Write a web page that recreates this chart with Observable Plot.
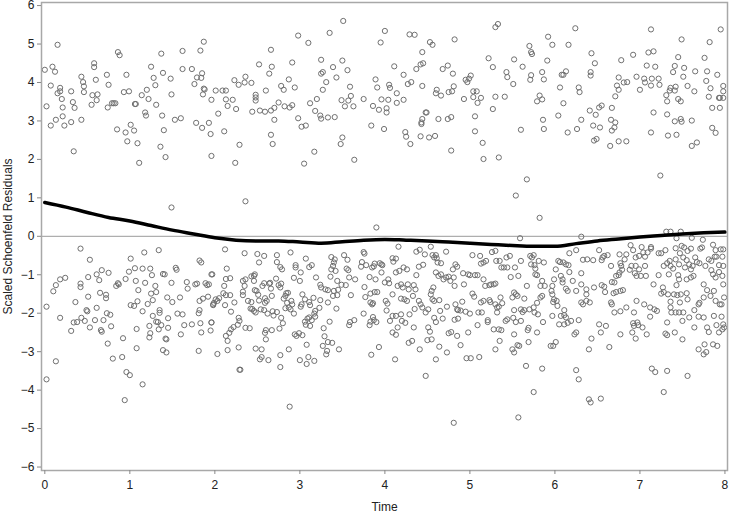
<!DOCTYPE html>
<html>
<head>
<meta charset="utf-8">
<script src="https://cdn.jsdelivr.net/npm/d3@7"></script>
<script src="https://cdn.jsdelivr.net/npm/@observablehq/plot@0.6"></script>
<style>
  html, body { margin: 0; padding: 0; background: #fff; }
  #chart svg { display: block; font-family: "Liberation Sans", Arial, sans-serif; }
</style>
</head>
<body>
<div id="chart"></div>
<script>
// Upper band residuals: [time, residual]
const upperPoints = [
[0.00,4.33],[0.02,3.38],[0.07,2.88],[0.07,3.92],[0.09,4.41],[0.12,4.28],[0.15,4.98],[0.13,3.03],[0.15,3.72],[0.18,3.86],
[0.18,3.77],[0.20,3.57],[0.21,3.35],[0.21,3.12],[0.23,2.88],[0.31,2.97],[0.31,3.77],[0.33,3.49],[0.34,2.21],[0.35,3.34],
[0.43,4.15],[0.43,3.03],[0.45,4.01],[0.46,3.75],[0.46,3.90],[0.55,3.42],[0.56,3.67],[0.58,4.50],[0.58,4.40],[0.60,4.07],
[0.61,3.54],[0.62,3.69],[0.73,4.20],[0.74,3.35],[0.75,3.94],[0.79,3.46],[0.81,3.46],[0.83,3.46],[0.85,2.78],[0.86,4.79],
[0.88,4.71],[0.93,3.75],[0.95,2.70],[0.96,4.20],[0.97,2.47],[0.99,3.77],[1.01,2.90],[1.05,2.75],[1.06,3.44],[1.07,3.44],
[1.09,2.42],[1.11,1.91],[1.14,3.67],[1.18,3.22],[1.19,3.14],[1.20,3.81],[1.22,3.57],[1.25,4.41],[1.28,4.12],[1.30,3.93],
[1.31,3.42],[1.36,2.33],[1.37,4.75],[1.38,3.14],[1.39,4.25],[1.40,2.76],[1.42,2.06],[1.48,4.10],[1.49,3.69],[1.49,0.75],
[1.53,3.03],[1.60,3.07],[1.62,4.35],[1.62,4.82],[1.73,4.35],[1.76,3.96],[1.78,2.95],[1.79,4.13],[1.83,4.83],[1.84,4.12],
[1.85,2.82],[1.85,4.24],[1.86,3.69],[1.87,3.84],[1.87,5.06],[1.88,3.82],[1.93,2.95],[1.95,2.66],[1.96,3.55],[1.96,2.09],
[2.01,3.79],[2.04,3.19],[2.09,3.79],[2.11,2.73],[2.13,3.79],[2.13,3.56],[2.15,3.39],[2.21,3.55],[2.23,4.06],[2.24,1.91],
[2.25,3.31],[2.28,3.94],[2.29,2.38],[2.35,4.00],[2.36,4.15],[2.36,0.91],[2.43,3.99],[2.44,3.24],[2.48,3.68],[2.48,3.53],
[2.48,3.61],[2.52,4.47],[2.53,3.27],[2.59,3.24],[2.60,3.79],[2.64,4.23],[2.66,4.85],[2.66,3.27],[2.66,2.64],[2.67,4.41],
[2.68,2.40],[2.70,3.03],[2.70,3.34],[2.75,3.48],[2.78,3.91],[2.81,3.81],[2.82,3.38],[2.87,4.08],[2.88,3.35],[2.91,3.41],
[2.91,4.52],[2.94,3.87],[2.98,3.07],[2.98,5.22],[3.02,2.85],[3.05,1.89],[3.07,2.88],[3.10,5.03],[3.12,3.46],[3.17,2.20],
[3.18,3.26],[3.20,3.57],[3.24,3.14],[3.25,3.06],[3.25,4.59],[3.25,4.23],[3.27,4.27],[3.27,3.81],[3.31,4.01],[3.33,3.09],
[3.35,5.29],[3.39,4.40],[3.41,3.10],[3.43,4.13],[3.48,2.40],[3.49,3.54],[3.50,2.57],[3.50,4.57],[3.51,5.60],[3.53,3.38],
[3.56,4.32],[3.57,3.53],[3.59,3.89],[3.60,3.65],[3.63,3.38],[3.64,1.99],[3.75,3.57],[3.84,2.88],[3.86,3.39],[3.89,4.08],
[3.90,0.23],[3.91,3.87],[3.93,3.29],[3.95,5.04],[3.96,3.56],[3.99,2.79],[4.00,5.34],[4.02,3.22],[4.02,3.33],[4.04,3.55],
[4.05,3.94],[4.06,3.86],[4.11,4.42],[4.14,3.47],[4.14,3.72],[4.22,3.55],[4.22,4.20],[4.24,2.71],[4.25,2.59],[4.27,3.96],
[4.29,5.25],[4.30,2.40],[4.31,4.01],[4.35,5.24],[4.37,4.35],[4.42,2.60],[4.42,4.47],[4.43,2.96],[4.43,2.92],[4.44,4.79],
[4.44,3.05],[4.44,3.91],[4.45,4.50],[4.48,3.22],[4.49,3.22],[4.52,2.57],[4.53,5.05],[4.56,4.98],[4.59,2.61],[4.60,3.72],
[4.61,3.81],[4.63,3.05],[4.66,3.66],[4.68,4.35],[4.74,4.44],[4.74,3.05],[4.75,3.75],[4.78,3.10],[4.79,3.77],[4.80,4.23],
[4.81,3.90],[4.82,5.12],[4.78,2.23],[4.93,3.57],[4.95,4.07],[4.97,4.01],[4.99,4.10],[5.01,4.18],[5.04,3.62],[5.04,3.77],
[5.06,2.73],[5.06,3.12],[5.08,3.77],[5.09,3.47],[5.13,3.60],[5.15,2.43],[5.16,2.01],[5.22,4.63],[5.27,3.31],[5.27,4.40],
[5.30,3.63],[5.30,5.44],[5.33,5.52],[5.34,2.05],[5.41,3.63],[5.43,4.27],[5.44,4.14],[5.51,3.96],[5.52,4.60],[5.54,1.06],
[5.60,2.77],[5.62,4.41],[5.67,1.48],[5.70,4.95],[5.71,4.07],[5.72,4.79],[5.72,4.19],[5.73,4.74],[5.79,3.51],[5.82,3.66],
[5.82,0.48],[5.85,3.56],[5.85,4.27],[5.86,3.03],[5.87,4.08],[5.87,2.79],[5.91,4.57],[5.92,5.19],[5.97,4.98],[6.04,3.14],
[6.06,3.87],[6.08,4.20],[6.10,4.20],[6.10,3.46],[6.13,4.29],[6.15,2.70],[6.16,4.98],[6.24,5.41],[6.26,2.79],[6.28,3.87],
[6.29,3.75],[6.31,3.03],[6.41,3.27],[6.42,4.18],[6.42,4.27],[6.43,4.76],[6.47,4.50],[6.45,2.88],[6.46,2.49],[6.48,3.16],
[6.49,2.53],[6.52,3.35],[6.53,2.83],[6.55,3.40],[6.65,2.35],[6.66,3.03],[6.67,3.34],[6.67,2.75],[6.70,2.83],[6.71,3.64],
[6.71,2.96],[6.73,3.92],[6.75,4.13],[6.75,3.81],[6.75,2.47],[6.78,4.58],[6.81,4.00],[6.84,2.47],[6.85,4.01],[6.92,4.72],
[6.96,4.15],[7.00,3.81],[7.05,4.10],[7.06,4.00],[7.08,4.44],[7.10,4.78],[7.13,3.92],[7.13,2.70],[7.13,5.38],[7.14,4.10],
[7.16,4.81],[7.16,3.22],[7.18,4.41],[7.22,4.10],[7.23,3.94],[7.24,1.58],[7.31,3.67],[7.32,3.17],[7.32,3.51],[7.33,2.62],
[7.35,3.79],[7.36,3.86],[7.39,4.27],[7.41,2.99],[7.41,3.79],[7.41,4.43],[7.42,3.89],[7.43,2.64],[7.45,3.57],[7.45,4.66],
[7.48,3.05],[7.48,3.51],[7.49,2.98],[7.49,5.12],[7.51,4.15],[7.52,4.38],[7.56,3.91],[7.61,2.35],[7.61,3.01],[7.64,3.77],
[7.65,4.29],[7.67,2.44],[7.76,4.64],[7.78,4.04],[7.79,4.29],[7.81,3.63],[7.82,5.05],[7.83,3.85],[7.85,3.34],[7.85,2.82],
[7.89,2.69],[7.91,4.20],[7.93,3.60],[7.94,3.60],[7.94,3.34],[7.95,5.38],[7.98,3.91],[7.98,3.77],[7.98,3.60]
];

// Lower band residuals: [time, residual]
const lowerPoints = [
[0.42,-0.32],[0.53,-0.61],[1.01,-0.58],[1.17,-0.42],[1.34,-0.36],[0.02,-1.83],[0.10,-1.43],[0.13,-1.27],[0.18,-1.12],[0.24,-1.08],
[0.18,-2.12],[0.13,-3.25],[0.02,-3.72],[0.31,-2.46],[0.34,-2.24],[0.38,-2.23],[0.36,-1.71],[0.42,-1.23],[0.42,-1.32],[0.43,-2.12],
[0.47,-2.20],[0.49,-1.92],[0.50,-1.95],[0.51,-1.57],[0.51,-1.06],[0.53,-2.37],[0.59,-2.18],[0.61,-0.99],[0.61,-1.86],[0.64,-1.14],
[0.65,-1.47],[0.66,-2.44],[0.67,-2.48],[0.67,-0.88],[0.69,-2.18],[0.72,-1.52],[0.72,-1.61],[0.73,-2.00],[0.75,-0.95],[0.77,-2.04],
[0.78,-2.34],[0.74,-2.79],[0.80,-3.18],[0.91,-3.14],[0.92,-2.65],[0.84,-1.29],[0.86,-1.22],[0.87,-1.25],[0.95,-1.11],[0.99,-0.92],
[1.01,-1.79],[1.05,-1.81],[1.06,-0.83],[1.07,-1.16],[1.08,-2.41],[1.08,-2.91],[1.09,-1.69],[1.10,-1.40],[1.15,-0.84],[1.15,-1.95],
[1.18,-1.21],[1.21,-1.76],[1.23,-2.33],[1.23,-2.63],[1.24,-0.84],[1.24,-2.52],[1.25,-1.49],[1.26,-1.01],[1.27,-1.66],[1.27,-2.07],
[1.30,-1.29],[1.31,-1.45],[1.31,-2.22],[1.33,-2.23],[1.34,-2.42],[1.35,-1.92],[1.35,-1.99],[1.37,-2.31],[1.39,-0.98],[1.41,-0.99],
[1.42,-2.66],[1.43,-2.68],[1.39,-2.96],[1.43,-3.02],[1.44,-1.59],[1.45,-2.13],[1.45,-2.38],[1.49,-1.21],[1.50,-1.71],[1.54,-0.82],
[1.55,-0.87],[1.56,-2.01],[1.59,-1.59],[1.60,-2.55],[1.62,-2.03],[1.64,-2.31],[1.67,-1.19],[1.68,-1.36],[1.73,-2.29],[1.77,-1.25],
[1.79,-1.23],[1.81,-2.00],[1.82,-0.63],[1.84,-0.68],[1.82,-1.68],[1.82,-1.92],[1.83,-2.26],[1.84,-2.50],[1.81,-2.98],[1.86,-1.62],
[1.89,-1.22],[1.91,-1.27],[1.92,-1.57],[1.93,-1.25],[1.96,-0.99],[1.96,-2.24],[1.95,-2.45],[1.98,-1.79],[1.99,-1.73],[0.96,-3.53],
[1.00,-3.61],[1.15,-3.85],[0.94,-4.26],[2.29,-3.47],
[2.12,-0.34],[2.35,-0.44],[2.50,-0.46],[2.58,-0.51],[2.52,-0.68],[2.73,-0.49],[2.73,-0.67],[2.89,-0.42],[2.77,-0.80],[2.79,-0.86],
[2.95,-0.75],[2.95,-0.81],[3.07,-0.58],[3.11,-0.80],[3.14,-0.75],[3.01,-0.94],[2.93,-1.08],[3.00,-1.16],[3.19,-1.07],[2.14,-0.84],
[2.13,-1.11],[2.18,-1.09],[1.97,-0.99],[2.33,-1.16],[2.36,-1.12],[2.43,-1.04],[2.46,-1.03],[2.47,-0.99],[2.46,-1.16],[2.35,-1.29],
[2.11,-1.29],[2.10,-1.48],[2.13,-1.53],[2.18,-1.53],[2.23,-1.72],[2.12,-1.79],[2.01,-1.64],[2.03,-1.68],[2.05,-1.61],[1.98,-1.77],
[2.19,-1.96],[2.33,-1.44],[2.33,-1.53],[2.39,-1.68],[2.43,-1.71],[2.44,-1.89],[2.46,-1.94],[2.47,-1.40],[2.49,-1.42],[2.51,-1.52],
[2.52,-1.67],[2.56,-1.29],[2.58,-1.22],[2.59,-1.61],[2.59,-1.73],[2.61,-1.68],[2.64,-1.23],[2.65,-1.21],[2.66,-1.36],[2.67,-1.55],
[2.54,-1.90],[2.58,-1.92],[2.48,-1.98],[2.42,-1.88],[2.62,-2.01],[2.69,-2.06],[2.73,-1.97],[2.72,-1.10],[2.75,-1.27],[2.77,-1.33],
[2.78,-1.23],[2.81,-1.62],[2.83,-1.55],[2.84,-1.48],[2.86,-1.47],[2.85,-1.73],[2.87,-1.85],[2.89,-1.90],[2.90,-1.68],[2.91,-1.77],
[2.93,-2.01],[2.83,-1.87],[2.78,-2.12],[2.80,-2.26],[2.76,-2.40],[2.68,-1.95],[2.67,-2.44],[2.60,-2.44],[2.59,-2.51],[2.60,-2.68],
[2.55,-2.94],[2.48,-2.92],[2.36,-2.38],[2.41,-2.39],[2.28,-2.12],[2.29,-2.20],[2.27,-2.30],[2.22,-2.36],[2.19,-2.42],[2.17,-2.51],
[2.13,-2.59],[2.15,-2.72],[2.28,-2.89],[2.15,-2.96],[2.03,-3.06],[1.96,-2.24],[2.53,-3.20],[2.55,-3.14],[2.63,-3.22],[2.30,-3.47],
[2.77,-3.09],[2.77,-3.40],[2.87,-2.94],[2.94,-2.55],[2.96,-2.59],[2.99,-2.52],[3.03,-2.57],[3.08,-2.82],[3.00,-3.22],[3.08,-3.32],
[3.10,-3.14],[3.03,-1.51],[3.02,-1.77],[3.01,-1.83],[3.06,-1.64],[3.16,-1.60],[3.18,-1.94],[3.23,-1.86],[3.24,-1.66],[3.11,-1.71],
[3.12,-1.79],[3.09,-2.14],[3.11,-2.11],[3.14,-2.18],[3.17,-2.01],[3.18,-2.09],[3.06,-2.22],[3.12,-2.33],[3.07,-2.30],[3.28,-2.39],
[3.24,-1.26],[3.25,-1.33],[3.30,-1.38],[3.33,-1.40],[3.36,-1.05],[3.37,-0.54],[3.39,-0.77],[3.40,-0.68],[3.41,-0.60],[3.42,-0.90],
[3.37,-0.86],[3.44,-1.16],[3.45,-1.39],[3.49,-1.26],[3.52,-0.49],[3.56,-0.61],[3.54,-1.27],[3.55,-0.84],[3.57,-0.88],[3.58,-1.07],
[3.60,-1.53],[3.65,-1.12],[3.72,-0.79],[3.73,-0.67],[3.75,-0.41],[3.76,-0.45],[3.78,-0.75],[3.76,-1.32],[3.77,-1.58],[3.75,-2.01],
[3.82,-1.06],[3.85,-0.81],[3.87,-0.78],[3.88,-0.71],[3.89,-1.12],[3.83,-1.49],[3.88,-1.45],[3.91,-1.45],[3.94,-0.70],[3.97,-0.75],
[3.83,-1.72],[3.85,-1.77],[3.86,-1.74],[3.86,-2.10],[3.87,-2.18],[3.90,-2.23],[3.83,-2.22],[3.82,-2.31],[3.64,-2.18],[3.59,-2.23],
[3.58,-2.31],[3.35,-2.22],[3.29,-2.60],[3.33,-2.75],[3.38,-2.77],[3.27,-2.85],[3.32,-2.98],[3.31,-3.07],[3.46,-2.94],[3.43,-1.88],
[3.33,-1.72],[3.39,-1.55],[3.40,-1.42],[3.44,-1.53],[3.93,-2.88],[3.84,-3.08],[3.17,-3.24],[2.88,-4.43],[4.81,-4.85],
[4.16,-0.27],[5.59,-0.05],[4.37,-0.40],[4.41,-0.35],[4.47,-0.47],[4.54,-0.27],[4.56,-0.49],[4.58,-0.55],[4.60,-0.49],[4.61,-0.57],
[4.62,-0.68],[4.66,-0.70],[4.72,-0.40],[4.45,-0.74],[4.40,-0.79],[4.09,-0.57],[4.13,-0.58],[4.10,-0.66],[3.96,-0.73],[3.96,-0.94],
[4.22,-0.81],[4.26,-0.86],[4.13,-0.94],[4.17,-0.90],[4.04,-1.12],[4.00,-1.20],[4.05,-1.22],[4.15,-1.29],[4.19,-1.25],[4.21,-1.33],
[4.27,-1.25],[4.28,-1.38],[4.34,-1.27],[4.36,-1.38],[4.37,-1.01],[4.09,-1.51],[4.19,-1.62],[4.23,-1.64],[4.26,-1.68],[4.33,-1.55],
[4.40,-1.68],[4.42,-1.77],[4.44,-1.85],[4.35,-1.89],[4.01,-1.68],[4.03,-1.75],[4.02,-1.93],[4.09,-2.07],[4.06,-2.20],[4.13,-2.07],
[4.19,-2.03],[4.20,-2.20],[4.15,-2.37],[4.24,-2.25],[4.29,-2.03],[4.34,-2.37],[4.09,-2.50],[4.13,-2.56],[4.28,-2.77],[4.32,-2.72],
[4.41,-2.94],[4.12,-3.20],[4.48,-3.63],[4.50,-2.70],[4.55,-2.68],[4.51,-2.37],[4.53,-2.48],[4.58,-2.12],[4.60,-2.23],[4.48,-1.98],
[4.51,-1.90],[4.54,-1.51],[4.55,-1.42],[4.57,-1.33],[4.56,-1.64],[4.58,-1.68],[4.64,-1.66],[4.60,-0.94],[4.63,-1.03],[4.66,-0.99],
[4.69,-1.12],[4.72,-1.07],[4.75,-1.05],[4.77,-1.16],[4.81,-1.07],[4.82,-1.29],[4.80,-0.86],[4.83,-0.73],[4.85,-0.79],[4.65,-1.94],
[4.68,-2.14],[4.73,-1.83],[4.75,-2.52],[4.78,-2.49],[4.83,-1.77],[4.85,-1.90],[4.86,-1.92],[4.89,-1.93],[4.91,-1.70],[4.95,-1.96],
[5.00,-2.01],[4.85,-2.59],[4.86,-2.14],[4.82,-2.17],[4.89,-2.83],[4.73,-3.02],[4.64,-2.87],[4.60,-3.20],[4.96,-3.17],[5.01,-3.17],
[5.11,-3.14],[4.98,-2.50],[5.09,-2.31],[5.10,-1.98],[5.14,-1.98],[5.21,-2.23],[5.32,-1.98],[5.03,-1.49],[5.05,-1.57],[5.13,-1.72],
[5.16,-1.68],[5.23,-1.66],[5.24,-1.71],[5.30,-1.77],[5.32,-1.85],[5.34,-1.83],[5.36,-1.59],[5.38,-1.74],[4.98,-0.99],[5.00,-1.01],
[4.93,-1.25],[5.06,-1.01],[5.09,-1.01],[4.92,-0.96],[5.03,-0.49],[5.12,-0.51],[5.13,-0.71],[5.16,-0.68],[5.19,-0.64],[5.18,-1.29],
[5.23,-1.27],[5.25,-1.25],[5.28,-1.25],[5.30,-1.23],[5.16,-1.12],[5.26,-0.41],[5.30,-0.38],[5.31,-0.64],[5.35,-0.64],[5.37,-0.81],
[5.40,-0.81],[5.44,-0.81],[5.43,-0.55],[5.47,-0.51],[5.48,-1.06],[5.50,-1.59],[5.52,-1.46],[5.54,-1.51],[5.56,-1.55],[5.53,-0.81],
[5.57,-1.03],[5.60,-0.64],[5.64,-1.62],[5.67,-1.29],[5.71,-0.51],[5.72,-0.73],[5.73,-0.55],[5.75,-0.49],[5.76,-0.75],[5.77,-0.84],
[5.79,-1.01],[5.81,-0.64],[5.85,-1.16],[5.87,-0.68],[5.88,-1.29],[5.77,-0.99],[5.83,-1.29],[5.79,-1.73],[5.85,-1.55],[5.83,-1.59],
[5.96,-1.42],[5.97,-1.51],[5.99,-1.64],[5.60,-1.90],[5.62,-1.97],[5.64,-1.92],[5.70,-1.90],[5.75,-1.85],[5.76,-1.98],[5.52,-1.92],
[5.51,-2.12],[5.54,-2.23],[5.60,-2.20],[5.69,-2.38],[5.68,-2.44],[5.79,-2.50],[5.86,-2.23],[5.80,-2.03],[5.44,-2.16],[5.42,-2.20],
[5.52,-2.55],[5.50,-2.94],[5.52,-3.02],[5.56,-2.83],[5.58,-2.85],[5.69,-2.75],[5.30,-2.94],[5.34,-2.42],[5.28,-2.42],[5.37,-2.44],
[5.35,-2.72],[5.21,-2.18],[5.66,-3.37],[5.85,-3.44],[5.75,-4.05],[5.95,-2.85],[5.97,-2.07],[5.98,-1.71],[5.57,-4.71],[6.42,-4.32],
[6.31,-0.01],[7.31,0.12],[7.36,0.12],[7.48,0.12],[7.61,-0.04],[7.74,-0.09],[7.43,-0.05],
[6.89,-0.23],[6.92,-0.36],[7.02,-0.28],[7.04,-0.42],[7.13,-0.28],[7.13,-0.32],[7.22,-0.44],[7.25,-0.44],[7.30,-0.36],[7.42,-0.31],
[7.47,-0.44],[7.49,-0.25],[7.52,-0.29],[7.56,-0.38],[7.60,-0.32],[7.71,-0.32],[7.73,-0.29],[7.86,-0.22],[7.89,-0.36],[7.95,-0.34],
[7.98,-0.34],[6.17,-0.44],[6.25,-0.36],[6.52,-0.36],[6.58,-0.51],[6.62,-0.49],[6.56,-0.55],[6.76,-0.47],[6.84,-0.47],[6.95,-0.55],
[6.99,-0.51],[7.06,-0.53],[7.09,-0.42],[6.04,-0.64],[6.06,-0.67],[6.10,-0.68],[6.13,-0.73],[6.16,-0.75],[6.01,-0.86],[6.17,-0.93],
[6.33,-0.61],[6.38,-0.60],[6.45,-0.62],[6.55,-0.62],[6.66,-0.77],[6.77,-0.70],[6.78,-0.77],[6.79,-0.87],[6.76,-0.94],[6.75,-1.01],
[6.72,-1.03],[6.82,-0.60],[6.90,-0.77],[6.95,-0.77],[6.99,-0.86],[6.88,-0.87],[6.94,-0.96],[6.96,-1.03],[7.01,-1.03],[7.07,-1.03],
[7.06,-0.77],[7.22,-1.01],[7.28,-0.77],[7.32,-0.70],[7.35,-0.64],[7.36,-0.77],[7.39,-0.84],[7.42,-0.60],[7.46,-0.73],[7.51,-0.55],
[7.53,-0.81],[7.55,-0.62],[7.58,-0.73],[7.60,-0.86],[7.62,-0.77],[7.65,-0.55],[7.67,-0.67],[7.70,-0.70],[7.77,-0.77],[7.81,-0.60],
[7.84,-0.64],[7.88,-0.53],[7.90,-0.53],[7.93,-0.75],[7.97,-0.53],[7.98,-0.77],[7.34,-0.99],[7.45,-1.01],[7.46,-1.12],[7.55,-1.12],
[7.60,-1.07],[7.63,-1.03],[7.75,-1.25],[7.84,-0.88],[7.86,-0.99],[7.89,-1.07],[7.93,-0.93],[7.97,-1.03],[7.98,-1.25],[5.99,-1.12],
[5.97,-1.29],[6.07,-1.03],[6.09,-1.12],[6.09,-1.20],[6.13,-1.36],[6.15,-1.42],[6.21,-1.16],[6.25,-1.42],[6.31,-0.96],[6.31,-1.25],
[6.37,-1.38],[6.37,-1.51],[6.41,-1.72],[6.37,-1.68],[6.31,-1.72],[6.33,-1.77],[6.46,-1.33],[6.55,-1.27],[6.58,-1.31],[6.67,-1.19],
[6.70,-1.20],[6.59,-1.45],[6.69,-1.48],[6.72,-1.45],[6.77,-1.42],[6.80,-1.40],[6.66,-1.72],[6.67,-1.77],[6.70,-1.98],[6.77,-1.95],
[6.84,-1.85],[6.93,-1.98],[6.96,-1.68],[7.05,-1.77],[7.12,-1.85],[7.17,-1.90],[7.20,-1.94],[7.16,-1.25],[7.25,-1.49],[7.28,-1.45],
[7.33,-1.51],[7.27,-1.33],[7.36,-1.70],[7.40,-1.51],[7.44,-1.53],[7.48,-1.51],[7.43,-1.27],[7.55,-1.48],[7.56,-1.64],[7.47,-1.72],
[7.36,-1.85],[7.37,-1.98],[7.42,-1.98],[7.46,-1.98],[7.51,-1.98],[7.64,-1.92],[7.69,-1.77],[7.70,-1.73],[7.75,-1.59],[7.79,-1.40],
[7.83,-1.55],[7.87,-1.42],[7.89,-1.68],[7.94,-1.77],[7.96,-1.77],[7.99,-1.59],[7.87,-2.07],[7.96,-2.09],[7.90,-2.31],[7.98,-2.29],
[7.97,-2.42],[7.93,-2.50],[7.99,-2.37],[7.79,-2.37],[7.81,-2.49],[7.75,-2.11],[7.64,-2.37],[7.69,-2.09],[7.50,-2.20],[7.50,-2.68],
[7.58,-2.11],[7.32,-2.24],[7.30,-2.53],[7.32,-2.57],[7.41,-2.50],[7.12,-2.09],[7.08,-2.55],[7.03,-2.37],[6.97,-2.24],[6.93,-2.33],
[6.91,-2.50],[6.95,-2.66],[6.98,-2.31],[6.92,-2.26],[6.77,-2.55],[6.64,-2.88],[6.60,-2.33],[6.54,-2.50],[6.52,-2.29],[6.43,-2.66],
[6.40,-2.94],[6.28,-2.18],[6.25,-2.50],[6.23,-2.55],[6.19,-2.20],[6.15,-2.25],[6.13,-2.11],[6.11,-2.05],[6.07,-2.07],[6.11,-2.29],
[6.05,-2.29],[6.01,-2.75],[5.98,-2.85],[6.11,-1.92],[6.03,-1.81],[6.02,-1.68],[6.25,-3.48],[6.28,-3.72],[6.40,-4.24],[6.54,-4.22],
[7.14,-3.44],[7.18,-3.53],[7.32,-3.50],[7.56,-3.63],[7.28,-4.05],[7.69,-2.94],[7.75,-3.07],[7.78,-3.01],[7.76,-2.81],[7.86,-2.81],
[7.91,-2.85]
];

// Smoothed trend (thick black line)
const smoothTime = [0,0.25,0.5,0.75,1,1.25,1.5,1.75,2,2.25,2.5,2.75,3,3.25,3.5,3.75,4,4.25,4.5,4.75,5,5.25,5.5,5.75,6,6.25,6.5,6.75,7,7.25,7.5,7.75,8];
const smoothValue = [0.88,0.76,0.62,0.49,0.40,0.28,0.16,0.06,-0.04,-0.10,-0.12,-0.12,-0.15,-0.18,-0.14,-0.10,-0.08,-0.10,-0.12,-0.15,-0.18,-0.21,-0.24,-0.26,-0.26,-0.19,-0.12,-0.07,-0.02,0.02,0.06,0.09,0.11];

const xTicks = [0,1,2,3,4,5,6,7,8];
const yTicks = [-6,-5,-4,-3,-2,-1,0,1,2,3,4,5,6];

const points = upperPoints.concat(lowerPoints).map(([t, r]) => ({t, r}));
const smooth = smoothTime.map((t, i) => ({t, r: smoothValue[i]}));

const chart = Plot.plot({
  width: 729,
  height: 515,
  marginLeft: 41,
  marginRight: 2,
  marginTop: 2,
  marginBottom: 45,
  style: {fontFamily: "'Liberation Sans', Arial, sans-serif", fontSize: "12px", color: "#222", background: "#fff", overflow: "visible"},
  x: {domain: [-0.039, 8.03]},
  y: {domain: [-6.09, 6.08]},
  marks: [
    Plot.ruleY([0], {stroke: "#9a9a9a", strokeWidth: 1}),
    Plot.dot(points, {x: "t", y: "r", r: 2.6, stroke: "#707070", strokeWidth: 1, fill: "none"}),
    Plot.line(smooth, {x: "t", y: "r", stroke: "#000", strokeWidth: 3.5, curve: "monotone-x"}),
    Plot.frame({stroke: "#a8a8a8", strokeWidth: 1.5}),
    Plot.axisX({ticks: xTicks, tickSize: 4, tickPadding: 6, stroke: "#888", label: "Time", labelAnchor: "center", labelArrow: "none", labelOffset: 40, fontSize: 12}),
    Plot.axisY({ticks: yTicks, tickSize: 4, tickPadding: 3, stroke: "#888", label: "Scaled Schoenfeld Residuals", labelAnchor: "center", labelOffset: 38, labelArrow: "none", fontSize: 12})
  ]
});
document.getElementById("chart").appendChild(chart);
</script>
</body>
</html>
